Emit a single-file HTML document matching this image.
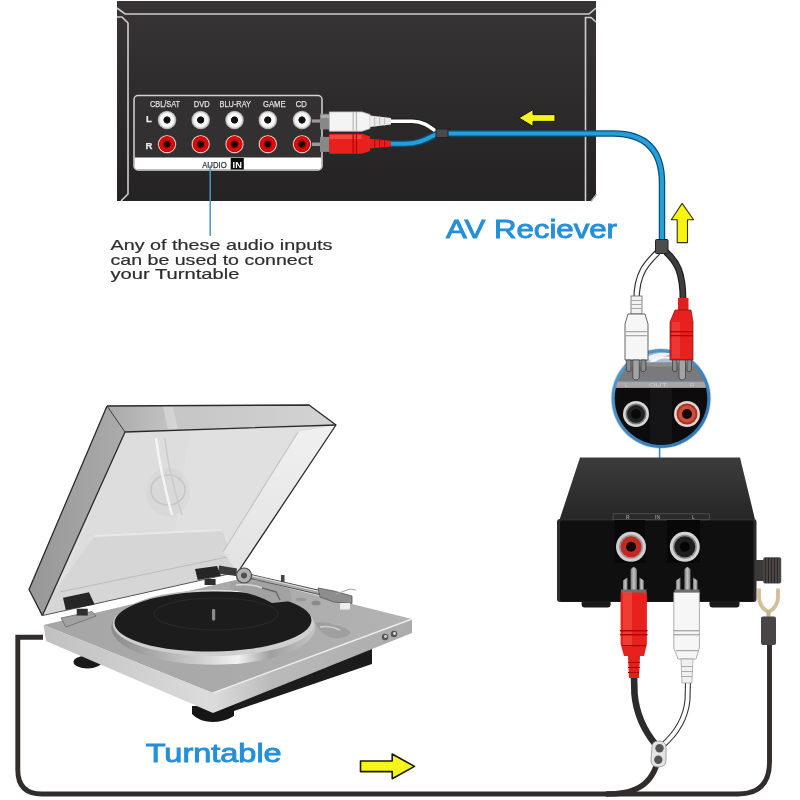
<!DOCTYPE html>
<html><head><meta charset="utf-8">
<style>
html,body{margin:0;padding:0;background:#fff;}
body{width:800px;height:800px;overflow:hidden;position:relative;font-family:"Liberation Sans",sans-serif;}
svg{position:absolute;left:0;top:0;will-change:transform;}
.lbl{font-family:"Liberation Sans",sans-serif;}
</style></head>
<body>
<svg width="800" height="800" viewBox="0 0 800 800">
<defs>
  <linearGradient id="rcvg" x1="0" y1="0" x2="0" y2="1">
    <stop offset="0" stop-color="#363434"/>
    <stop offset="1" stop-color="#242222"/>
  </linearGradient>
  <radialGradient id="wjack" cx="0.5" cy="0.5" r="0.5">
    <stop offset="0.35" stop-color="#111"/>
    <stop offset="0.42" stop-color="#fff"/>
    <stop offset="0.75" stop-color="#f4f4f4"/>
    <stop offset="1" stop-color="#9a9a9a"/>
  </radialGradient>
  <radialGradient id="rjack" cx="0.5" cy="0.5" r="0.5">
    <stop offset="0.3" stop-color="#1a0000"/>
    <stop offset="0.4" stop-color="#b30000"/>
    <stop offset="0.6" stop-color="#e01010"/>
    <stop offset="0.82" stop-color="#d00000"/>
    <stop offset="0.9" stop-color="#f3c9c0"/>
    <stop offset="1" stop-color="#a08080"/>
  </radialGradient>
</defs>

<!-- ============ RECEIVER ============ -->
<path d="M117 1 L596 1 L596 194 L590.5 201 L117 201 Z" fill="url(#rcvg)"/>
<path d="M596.5 194.5 L591 201.5" stroke="#999" stroke-width="1.2"/>
<g fill="none" stroke="#cfcfcf" stroke-width="1.6">
  <path d="M117 8 L125 14 L589 14 L596 8"/>
  <path d="M117 17 L122 17 L128 23 L128 194 L121 201"/>
  <path d="M596 22 L591 17.5 L585.5 17.5 L585.5 201"/>
</g>
<!-- jack panel -->
<rect x="134" y="95.5" width="188" height="74.5" rx="4" fill="#323030" stroke="#d4d4d4" stroke-width="1.5"/>
<path d="M134.7 157.5 L321.3 157.5 L321.3 166 Q321.3 169.3 318 169.3 L138 169.3 Q134.7 169.3 134.7 166 Z" fill="#fff"/>
<text x="202.2" y="167.6" font-size="8.8" fill="#333" stroke="#333" stroke-width="0.25" font-family="Liberation Sans" textLength="24.5" lengthAdjust="spacingAndGlyphs">AUDIO</text>
<rect x="230.7" y="158" width="13.1" height="11.5" fill="#0a0a0a"/>
<text x="232.6" y="167.6" font-size="8.8" font-weight="bold" fill="#fff" font-family="Liberation Sans" textLength="9.3" lengthAdjust="spacingAndGlyphs">IN</text>
<g font-size="9.5" fill="#e2e2e2" stroke="#e2e2e2" stroke-width="0.25" font-family="Liberation Sans" lengthAdjust="spacingAndGlyphs">
  <text x="150" y="107" textLength="30" lengthAdjust="spacingAndGlyphs">CBL/SAT</text>
  <text x="193.8" y="107" textLength="15.8" lengthAdjust="spacingAndGlyphs">DVD</text>
  <text x="219.5" y="107" textLength="31.5" lengthAdjust="spacingAndGlyphs">BLU-RAY</text>
  <text x="263" y="107" textLength="22.5" lengthAdjust="spacingAndGlyphs">GAME</text>
  <text x="295.8" y="107" textLength="11" lengthAdjust="spacingAndGlyphs">CD</text>
  <text x="146" y="122" font-weight="bold" fill="#eee">L</text>
  <text x="145.5" y="148.6" font-weight="bold" fill="#eee">R</text>
</g>
<g>
  <circle cx="167" cy="120" r="9.3" fill="url(#wjack)"/>
  <circle cx="200.7" cy="120" r="9.3" fill="url(#wjack)"/>
  <circle cx="234.5" cy="120" r="9.3" fill="url(#wjack)"/>
  <circle cx="267.8" cy="120" r="9.3" fill="url(#wjack)"/>
  <circle cx="302" cy="120" r="9.3" fill="url(#wjack)"/>
  <circle cx="167" cy="144.2" r="9.3" fill="url(#rjack)"/>
  <circle cx="200.7" cy="144.2" r="9.3" fill="url(#rjack)"/>
  <circle cx="234.5" cy="144.2" r="9.3" fill="url(#rjack)"/>
  <circle cx="267.8" cy="144.2" r="9.3" fill="url(#rjack)"/>
  <circle cx="302" cy="144.2" r="9.3" fill="url(#rjack)"/>
</g>

<!-- CD plugs & cables -->
<g>
  <!-- white cable -->
  <path d="M390 121.3 L412 121.3 C424 121.3 430 127 437 132" fill="none" stroke="#222" stroke-width="6"/>
  <path d="M390 121.3 L412 121.3 C424 121.3 430 127 437 132" fill="none" stroke="#fff" stroke-width="3.6"/>
  <!-- blue short cable -->
  <path d="M390 143.8 L405 143.8 C420 143.8 428 138 437 134" fill="none" stroke="#0d4f78" stroke-width="6.5"/>
  <path d="M390 143.8 L405 143.8 C420 143.8 428 138 437 134" fill="none" stroke="#23a0dc" stroke-width="4"/>
  <!-- main blue cable -->
  <path d="M447 133.5 L613 133.5 Q662 133.5 662 183 L662 242" fill="none" stroke="#0d4f78" stroke-width="6.5"/>
  <path d="M447 133.5 L613 133.5 Q662 133.5 662 183 L662 242" fill="none" stroke="#22a0dc" stroke-width="4"/>
  <rect x="436" y="129" width="12" height="8.5" fill="#4a4a4a" stroke="#222" stroke-width="1"/>
  <!-- white plug -->
  <rect x="312" y="119.4" width="10" height="3.2" fill="#9a9a9a"/>
  <rect x="320" y="113.8" width="9.5" height="15.6" fill="#888"/>
  <rect x="321" y="115" width="8" height="3" fill="#aaa"/>
  <path d="M329.4 111.9 L362 111.9 L370 114.5 L370 128.6 L362 131.2 L329.4 131.2 Z" fill="#f4f4f4" stroke="#bbb" stroke-width="0.8"/>
  <rect x="352.5" y="112" width="1.3" height="19" fill="#bbb"/>
  <rect x="355.8" y="112" width="1.3" height="19" fill="#bbb"/>
  <path d="M370 115.6 L391 118 L391 124.6 L370 127 Z" fill="#eaeaea"/>
  <g fill="#c4c4c4"><rect x="374" y="116" width="1.2" height="10.5"/><rect x="379" y="116.5" width="1.2" height="9.5"/><rect x="384" y="117" width="1.2" height="8.5"/></g>
  <!-- red plug -->
  <rect x="312" y="142.5" width="10" height="3.5" fill="#9a9a9a"/>
  <rect x="320" y="136.9" width="9.5" height="15" fill="#888"/>
  <path d="M329.4 133.8 L362 133.8 L370 136.5 L370 151 L362 153.8 L329.4 153.8 Z" fill="#e8201e"/>
  <rect x="329.4" y="135" width="32" height="4" fill="#f04a40"/>
  <rect x="352.5" y="134" width="1.3" height="19.5" fill="#b00"/>
  <rect x="355.8" y="134" width="1.3" height="19.5" fill="#b00"/>
  <path d="M370 138.7 L391 140.8 L391 146.6 L370 148.5 Z" fill="#e32020"/>
  <g fill="#b00"><rect x="374" y="139" width="1.2" height="9"/><rect x="379" y="139.5" width="1.2" height="8"/><rect x="384" y="140" width="1.2" height="7"/></g>
</g>

<!-- yellow arrow left on receiver -->
<path d="M518.9 117.9 L533 109.6 L533 114.6 L555 114.6 L555 121.4 L533 121.4 L533 126.4 Z" fill="#f6f41e" stroke="#141400" stroke-width="1" stroke-linejoin="round"/>

<!-- pointer line -->
<line x1="210.2" y1="165.5" x2="210.2" y2="236" stroke="#4a98c4" stroke-width="1.5"/>

<!-- AV Reciever -->
<text x="446" y="238" font-size="26" fill="#2490d8" stroke="#2490d8" stroke-width="0.9" textLength="171" lengthAdjust="spacingAndGlyphs" font-family="Liberation Sans">AV Reciever</text>

<!-- Left text -->
<g font-size="15" fill="#2e2e2e" stroke="#2e2e2e" stroke-width="0.2" font-family="Liberation Sans">
  <text x="110.5" y="249.6" textLength="222" lengthAdjust="spacingAndGlyphs">Any of these audio inputs</text>
  <text x="110.5" y="264.6" textLength="202.5" lengthAdjust="spacingAndGlyphs">can be used to connect</text>
  <text x="110.5" y="279.2" textLength="129" lengthAdjust="spacingAndGlyphs">your Turntable</text>
</g>

<!-- yellow up arrow -->
<path d="M682.1 203.4 L693.6 219.7 L687.5 219.7 L687.5 242.6 L677.2 242.6 L677.2 219.7 L671.3 219.7 Z" fill="#f8f410" stroke="#333300" stroke-width="1.1" stroke-linejoin="round"/>


<!-- ============ TURNTABLE ============ -->
<defs>
  <linearGradient id="lidin" x1="0" y1="0" x2="1" y2="1">
    <stop offset="0" stop-color="#e2e2e2"/>
    <stop offset="0.5" stop-color="#d6d6d6"/>
    <stop offset="1" stop-color="#e4e4e4"/>
  </linearGradient>
  <linearGradient id="lidtop" x1="0" y1="0" x2="1" y2="0">
    <stop offset="0" stop-color="#a8a8a8"/>
    <stop offset="0.3" stop-color="#c6c6c6"/>
    <stop offset="0.7" stop-color="#cdcdcd"/>
    <stop offset="1" stop-color="#d4d4d4"/>
  </linearGradient>
  <linearGradient id="lidleft" x1="0" y1="0" x2="1" y2="0">
    <stop offset="0" stop-color="#979797"/>
    <stop offset="1" stop-color="#ababab"/>
  </linearGradient>
  <linearGradient id="basetop" x1="0" y1="0" x2="1" y2="0">
    <stop offset="0" stop-color="#a6a6a6"/>
    <stop offset="0.6" stop-color="#ababab"/>
    <stop offset="1" stop-color="#b4b4b4"/>
  </linearGradient>
  <linearGradient id="basefront" x1="0" y1="0" x2="1" y2="0">
    <stop offset="0" stop-color="#c0c0c0"/>
    <stop offset="1" stop-color="#dcdcdc"/>
  </linearGradient>
  <linearGradient id="baseright" x1="0" y1="0" x2="1" y2="0">
    <stop offset="0" stop-color="#dcdcdc"/>
    <stop offset="0.3" stop-color="#bababa"/>
    <stop offset="1" stop-color="#ababab"/>
  </linearGradient>
  <linearGradient id="prim" x1="0" y1="0" x2="1" y2="0">
    <stop offset="0" stop-color="#8a8a8a"/>
    <stop offset="0.4" stop-color="#c8c8c8"/>
    <stop offset="0.62" stop-color="#f2f2f2"/>
    <stop offset="0.78" stop-color="#a0a0a0"/>
    <stop offset="1" stop-color="#c4c4c4"/>
  </linearGradient>
</defs>
<!-- lid -->
<defs>
  <linearGradient id="rwall" x1="0" y1="0" x2="0" y2="1">
    <stop offset="0" stop-color="#f0f0f0"/>
    <stop offset="1" stop-color="#e2e2e2"/>
  </linearGradient>
</defs>
<g stroke-linejoin="round">
  <path d="M125 432 L336 425 L238 572 L42.4 615.6 Z" fill="#e0e0e0"/>
  <path d="M125 432 L190 430 L175 530 L60 590 Z" fill="#dadada" opacity="0.6"/>
  <path d="M48 600 L95 536 L222 530 L238 572 L42.4 615.6 Z" fill="#d3d3d3" opacity="0.75"/>
  <path d="M95 536 L222 530" stroke="#e8e8e8" stroke-width="2"/>
  <path d="M60 592 L232 556" stroke="#bcbcbc" stroke-width="1.2"/>
  <ellipse cx="168" cy="492" rx="22" ry="24" fill="#d6d6d6" opacity="0.6"/>
  <path d="M298 432 L336 425 L238 572 L223 552 Z" fill="url(#rwall)"/>
  <path d="M223 552 L298 432" stroke="#c4c4c4" stroke-width="1.2"/>
  <ellipse cx="168" cy="490" rx="17" ry="15" fill="none" stroke="#c6c6c6" stroke-width="1.5"/>
  <path d="M156 438 Q160 470 172 515" fill="none" stroke="#f4f4f4" stroke-width="2.5"/>
  <path d="M165 438 Q168 470 182 515" fill="none" stroke="#cacaca" stroke-width="1.5"/>
  <path d="M107 406 L309 405 L336 425 L125 432 Z" fill="url(#lidtop)"/>
  <path d="M163 406 L173 406 L178 430 L168 430 Z" fill="#dedede" opacity="0.6"/>
  <path d="M107 406 L125 432 L42.4 615.6 L29 589.5 Z" fill="url(#lidleft)"/>
  <path d="M107 406 L309 405 L336 425 L238 572" fill="none" stroke="#2a2a2a" stroke-width="1.3"/>
  <path d="M336 425 L125 432 L42.4 615.6" fill="none" stroke="#2a2a2a" stroke-width="1.3"/>
  <path d="M107 406 L29 589.5 L42.4 615.6" fill="none" stroke="#2a2a2a" stroke-width="1.3"/>
  <path d="M42.4 615.6 L238 572" fill="none" stroke="#555" stroke-width="1"/>
  <path d="M107 406 L125 432" fill="none" stroke="#3a3a3a" stroke-width="1"/>
</g>
<!-- base underside & feet -->
<path d="M200 705 L372 648 L372 664 L205 721 Z" fill="#1c1c1c"/>
<ellipse cx="87.5" cy="662" rx="14" ry="6.5" fill="#1a1a1a"/>
<path d="M192 706 L234 706 L234 716 Q224 722 212 722 Q198 721 192 714 Z" fill="#161616"/>
<ellipse cx="360" cy="658" rx="12" ry="6" fill="#1a1a1a"/>
<!-- base top -->
<path d="M43.5 625 L246 577.5 L412 619 L213 693 Z" fill="url(#basetop)"/>
<!-- base front-left face -->
<path d="M43.5 625 L213 693 L213 713 L46 641 Z" fill="url(#basefront)"/>
<!-- base right face -->
<path d="M213 693 L412 619 L412 633 L213 713 Z" fill="url(#baseright)"/>
<path d="M213 693 L412 619" stroke="#ececec" stroke-width="1.5"/>
<circle cx="385" cy="637" r="3.2" fill="#555"/><circle cx="394" cy="634" r="3.2" fill="#555"/>
<circle cx="385.5" cy="636.5" r="1.4" fill="#ddd"/><circle cx="394.5" cy="633.5" r="1.4" fill="#ddd"/>
<!-- hinge plates on base -->
<path d="M61 618 L92 611.5 L96 616 L66 627 Z" fill="#a2a2a2" stroke="#6a6a6a" stroke-width="0.8"/>
<path d="M315 623 Q325 620 334 625 Q346 626 351 633 Q344 640 333 638 Q322 636 315 623 Z" fill="#9c9c9c" opacity="0.85"/>
<path d="M320 627 Q330 625 340 630" stroke="#d0d0d0" stroke-width="1.5" fill="none"/>
<!-- platter -->
<ellipse cx="213.3" cy="627.3" rx="102" ry="37.5" fill="url(#prim)"/>
<ellipse cx="213.3" cy="624" rx="100.5" ry="32" fill="#cfcfcf"/>
<ellipse cx="213" cy="621.5" rx="98.5" ry="30" fill="#1c1c1c" transform="rotate(-0.8 213 621.5)"/>
<ellipse cx="216" cy="614" rx="62" ry="16" fill="none" stroke="#2a2a2a" stroke-width="1"/>
<rect x="212" y="609" width="3.2" height="11.5" rx="1" fill="#8a8a8a"/>
<!-- tonearm -->
<path d="M230.5 582 L262 581 L290 589 L292 601 L272 603 Q252 592 230.5 590 Z" fill="#a2a2a2"/>
<path d="M236 585 Q250 583 262 588" stroke="#d8d8d8" stroke-width="1.5" fill="none"/>
<path d="M262 588 L276 592 L280 600" stroke="#6a6a6a" stroke-width="1.5" fill="none"/>
<path d="M250.75 576.5 L322.75 593.25" stroke="#4a4a4a" stroke-width="5" stroke-linecap="round"/>
<path d="M250.75 576.5 L322.75 593.25" stroke="#a8a8a8" stroke-width="3.2"/>
<path d="M250.75 575.5 L322.75 592.25" stroke="#e0e0e0" stroke-width="1"/>
<path d="M219 565.5 L237 568.5 L236 576 L218.5 573.5 Z" fill="#3a3a3a"/>
<circle cx="244" cy="575.5" r="7.5" fill="#b0b0b0" stroke="#4a4a4a" stroke-width="1.2"/>
<circle cx="244" cy="575.5" r="3" fill="#505050"/>
<path d="M318 588 L334 591 L352 596 L352 603.5 L334 602 L320 597 Z" fill="#8e8e8e" stroke="#555" stroke-width="0.8"/>
<path d="M336 594 L350 589 L356 590" stroke="#aaa" stroke-width="1.2" fill="none"/>
<rect x="340" y="603" width="10" height="6.5" fill="#ececec"/>
<rect x="281" y="575" width="3.5" height="7" fill="#444"/>
<ellipse cx="301" cy="599.5" rx="5.5" ry="1.8" fill="#999"/>
<ellipse cx="316" cy="603" rx="4.5" ry="2.5" fill="#8a8a8a"/>
<!-- hinges -->
<path d="M63 597.75 L89 592.25 L94.6 604.6 L65.75 610 Z" fill="#262626"/>
<rect x="76.75" y="608.75" width="11" height="6.8" fill="#2e2e2e"/>
<path d="M195 568.9 L217 566 L221 575.75 L197.75 580 Z" fill="#262626"/>
<rect x="204.6" y="579" width="11" height="6" fill="#2e2e2e"/>

<!-- ============ BOTTOM CABLES ============ -->
<g fill="none">
  <path d="M43 637.3 L17.8 637.3 L17.8 770 Q17.8 794 42 794 L738 794 Q769.5 794 769.5 762 L769.5 645" stroke="#302d2c" stroke-width="4.9" stroke-linejoin="miter"/>
  <path d="M657.5 762 Q652 782 636 789 Q626 794 606 794" stroke="#302d2c" stroke-width="5.6"/>
  <!-- black cable from red plug -->
  <path d="M634 676 L634.5 694 Q637 722 656 745" stroke="#2c2c2c" stroke-width="6.6"/>
  <!-- white cable from white plug -->
  <path d="M688 681 L687.5 700 Q685 726 662 746" stroke="#333" stroke-width="6"/>
  <path d="M688 681 L687.5 700 Q685 726 662 746" stroke="#fff" stroke-width="3.8"/>
</g>
<!-- joint at bottom -->
<g>
  <path d="M652 747 Q652 741 659 741 Q666 741 666 748 L666 760 Q666 767 658.5 767 Q651 767 651 760 Z" fill="#e4e4e4" stroke="#9a9a9a" stroke-width="0.9"/>
  <circle cx="659.5" cy="748.3" r="4.2" fill="#555"/>
  <circle cx="658.3" cy="759.8" r="4.2" fill="#555"/>
</g>

<!-- ============ SPLITTER (top right) ============ -->
<g fill="none">
  <path d="M658 252 C648 262 636.5 272 636.5 300" stroke="#333" stroke-width="6.6"/>
  <path d="M658 252 C648 262 636.5 272 636.5 300" stroke="#fff" stroke-width="4.2"/>
  <path d="M666 252 C677 262 683 272 683 300" stroke="#1e1e1e" stroke-width="6.8"/>
  <path d="M666 252 C677 262 683 272 683 300" stroke="#3e3e3e" stroke-width="4.4"/>
</g>
<rect x="655.5" y="239.5" width="12.5" height="14" rx="1" fill="#4d4d4d" stroke="#222" stroke-width="1"/>

<!-- ============ MAGNIFIER CIRCLE ============ -->
<defs>
  <clipPath id="mag"><circle cx="661" cy="398.5" r="46.3"/></clipPath>
  <linearGradient id="magtop" x1="0" y1="0" x2="0" y2="1">
    <stop offset="0" stop-color="#8fb4d0"/>
    <stop offset="1" stop-color="#b6c6d4"/>
  </linearGradient>
</defs>
<defs><linearGradient id="ringg" x1="0" y1="0" x2="1" y2="1"><stop offset="0" stop-color="#5c9ccc"/><stop offset="1" stop-color="#2a72ae"/></linearGradient></defs>
<circle cx="661" cy="398.5" r="50.3" fill="#a8cbe6" opacity="0.6"/>
<circle cx="661" cy="398.5" r="49.4" fill="url(#ringg)"/>
<g clip-path="url(#mag)">
  <rect x="605" y="345" width="115" height="20" fill="url(#magtop)"/>
  <path d="M645 358 Q660 350 672 354 Q662 356 655 362 Z" fill="#eef2f6"/>
  <path d="M650 362 Q662 356 670 358" stroke="#f4f6f8" stroke-width="2" fill="none"/>
  <rect x="605" y="362.6" width="115" height="19" fill="#7a7a7c"/>
  <rect x="605" y="362.6" width="115" height="4" fill="#8c8c8e"/>
  <rect x="605" y="381.6" width="115" height="6" fill="#a6a6a8"/>
  <rect x="605" y="388" width="115" height="65" fill="#0c0c0e"/>
  <rect x="650" y="388" width="22" height="65" fill="#151517"/>
  <g opacity="0.55" font-size="5.5" fill="#e8e8e8" font-family="Liberation Sans"><text x="625" y="386.5">L</text>
  <text x="649" y="386.5" textLength="18" lengthAdjust="spacingAndGlyphs">OUT</text>
  <text x="690" y="386.5">R</text></g>
  <circle cx="636" cy="414" r="13" fill="#d7d7d7"/>
  <circle cx="636" cy="414" r="10.5" fill="#777"/>
  <circle cx="636" cy="414" r="9" fill="#222"/>
  <circle cx="636" cy="414" r="5" fill="#0a0a0a"/>
  <circle cx="687" cy="414" r="13" fill="#e0d4d0"/>
  <circle cx="687" cy="414" r="10.5" fill="#b03020"/>
  <circle cx="687" cy="414" r="8.5" fill="#c8503c"/>
  <circle cx="687" cy="414" r="5" fill="#1a0505"/>
</g>

<!-- plugs above circle -->
<g>
  <!-- white plug -->
  <rect x="631" y="296" width="11" height="18" fill="#f2f2f2" stroke="#666" stroke-width="0.8"/>
  <g fill="#aaa"><rect x="631" y="300" width="11" height="1"/><rect x="631" y="304" width="11" height="1"/><rect x="631" y="308" width="11" height="1"/></g>
  <path d="M628 314 L645 314 L648 324 L648 360 L625 360 L625 324 Z" fill="#f6f6f6" stroke="#555" stroke-width="0.9"/>
  <rect x="625" y="331" width="23" height="1.3" fill="#aaa"/>
  <rect x="625" y="335" width="23" height="1.3" fill="#aaa"/>
  <path d="M626.3 360 L631 360 L631 371 L628 372 L626.3 370 Z" fill="#8a8a8a" stroke="#333" stroke-width="0.7"/>
  <path d="M641 360 L645.9 360 L645.9 370 L644 372 L641 371 Z" fill="#8a8a8a" stroke="#333" stroke-width="0.7"/>
  <path d="M632.8 360 L639.3 360 L639.3 378 Q636 382 632.8 378 Z" fill="#a4a4a4" stroke="#333" stroke-width="0.7"/>
  <!-- red plug -->
  <rect x="678" y="298" width="10.5" height="13" fill="#e02020"/>
  <path d="M675 310 L691 310 L693 322 L693 360 L670 360 L670 322 Z" fill="#e8201e" stroke="#7a1010" stroke-width="0.7"/>
  <rect x="672" y="322" width="8" height="36" fill="#f04a40" opacity="0.6"/>
  <rect x="670" y="331" width="23" height="1.3" fill="#b00"/>
  <rect x="670" y="335" width="23" height="1.3" fill="#b00"/>
  <path d="M672.5 360 L677 360 L677 371 L674 372 L672.5 370 Z" fill="#8a8a8a" stroke="#333" stroke-width="0.7"/>
  <path d="M687 360 L691.5 360 L691.5 370 L690 372 L687 371 Z" fill="#8a8a8a" stroke="#333" stroke-width="0.7"/>
  <path d="M679 360 L685.5 360 L685.5 378 Q682.2 382 679 378 Z" fill="#a4a4a4" stroke="#333" stroke-width="0.7"/>
</g>

<!-- blue line from circle to box -->
<line x1="659.6" y1="447" x2="659.6" y2="460" stroke="#2a8cc4" stroke-width="1.6"/>

<!-- ============ PREAMP BOX ============ -->
<defs>
  <linearGradient id="pbtop" x1="0" y1="0" x2="0" y2="1">
    <stop offset="0" stop-color="#3c3c3c"/>
    <stop offset="1" stop-color="#262626"/>
  </linearGradient>
</defs>
<path d="M580 457.4 L740 457.4 L755 519.5 L559.6 519.5 Z" fill="url(#pbtop)"/>
<rect x="581.6" y="598" width="29" height="9.5" rx="3" fill="#1a1a1a"/>
<rect x="709.5" y="598" width="30" height="9.5" rx="3" fill="#1a1a1a"/>
<rect x="557" y="519" width="199.5" height="83" rx="3" fill="#2c2c2c"/>
<rect x="560" y="520.5" width="193.5" height="81" rx="2" fill="#0f0f0f"/>
<rect x="613" y="513.8" width="96.5" height="6" fill="#2a2a2a" stroke="#666" stroke-width="0.6"/>
<g font-size="5" fill="#bbb" font-family="Liberation Sans"><text x="626" y="519">R</text><text x="655" y="519">IN</text><text x="692" y="519">L</text></g>
<rect x="614.6" y="520" width="30.4" height="43" fill="#080808"/>
<rect x="667" y="520" width="33" height="43" fill="#080808"/>
<circle cx="631" cy="546.8" r="15" fill="#cfcfcf"/>
<circle cx="631" cy="546.8" r="12" fill="#999"/>
<circle cx="631" cy="546.8" r="10.5" fill="#c02a20"/>
<circle cx="631" cy="546.8" r="5" fill="#150505"/>
<circle cx="684.8" cy="546.8" r="15" fill="#d4d4d4"/>
<circle cx="684.8" cy="546.8" r="12" fill="#8a8a8a"/>
<circle cx="684.8" cy="546.8" r="10.5" fill="#1e1e1e"/>
<circle cx="684.8" cy="546.8" r="5" fill="#050505"/>

<!-- plugs into preamp -->
<g>
  <!-- red -->
  <defs><linearGradient id="pin" x1="0" y1="0" x2="1" y2="0"><stop offset="0" stop-color="#777"/><stop offset="0.5" stop-color="#c4c4c4"/><stop offset="1" stop-color="#7a7a7a"/></linearGradient></defs>
  <path d="M630.6 591 L630.6 569.5 Q633.75 564.5 636.9 569.5 L636.9 591 Z" fill="url(#pin)"/>
  <path d="M623 591 L623 580.5 L627.5 577.5 L627.5 591 Z" fill="url(#pin)"/>
  <path d="M639.4 591 L639.4 577.5 L643.8 580.5 L643.8 591 Z" fill="url(#pin)"/>
  <rect x="621" y="589.5" width="25.5" height="4" fill="#6e6e6e"/>
  <path d="M620.6 592.5 L646.9 592.5 L646.9 644 L644 656 L624 656 L620.6 644 Z" fill="#e8201e"/>
  <rect x="623" y="592" width="9" height="55" fill="#f55a4a" opacity="0.5"/>
  <g fill="#a00"><rect x="620" y="630" width="27.6" height="1.4"/><rect x="620" y="634" width="27.6" height="1.4"/><rect x="622" y="645" width="24" height="1.2"/></g>
  <path d="M628 656 L640 656 L639 678 L629 678 Z" fill="#e32020"/>
  <g fill="#a00"><rect x="628" y="662" width="12" height="1"/><rect x="628" y="667" width="12" height="1"/><rect x="628" y="672" width="11" height="1"/></g>
  <!-- white -->
  <path d="M684.4 591 L684.4 569.5 Q687.4 564.5 690.4 569.5 L690.4 591 Z" fill="url(#pin)"/>
  <path d="M676 591 L676 580.5 L680.5 577.5 L680.5 591 Z" fill="url(#pin)"/>
  <path d="M693 591 L693 577.5 L697.5 580.5 L697.5 591 Z" fill="url(#pin)"/>
  <rect x="674.5" y="589.5" width="25" height="4" fill="#6e6e6e"/>
  <path d="M673.8 592.5 L699.4 592.5 L699.4 648 L696 659 L678 659 L673.8 648 Z" fill="#f6f6f6" stroke="#999" stroke-width="0.8"/>
  <g fill="#aaa"><rect x="674" y="630" width="25.8" height="1.4"/><rect x="674" y="634" width="25.8" height="1.4"/><rect x="676" y="650" width="22" height="1.2"/></g>
  <path d="M681 659 L693 659 L692 683 L682 683 Z" fill="#f0f0f0" stroke="#999" stroke-width="0.7"/>
  <g fill="#aaa"><rect x="681" y="666" width="12" height="1"/><rect x="681" y="671" width="12" height="1"/><rect x="681" y="676" width="11" height="1"/></g>
</g>

<!-- ground screw & spade -->
<rect x="755" y="560" width="9" height="21" fill="#3a3a3a"/>
<rect x="763.2" y="557.2" width="18" height="26.3" rx="2" fill="#4a4646"/>
<g fill="#2a2828"><rect x="765" y="558" width="1" height="25"/><rect x="768" y="558" width="1" height="25"/><rect x="771" y="558" width="1" height="25"/><rect x="774" y="558" width="1" height="25"/><rect x="777" y="558" width="1" height="25"/></g>
<path d="M759 588.5 L759 598 Q760 608 768.5 612 Q777 608 778 598 L778 588.5" fill="none" stroke="#d2bf98" stroke-width="3.8"/>
<rect x="766.5" y="610" width="4" height="7" fill="#c8b58c"/>
<rect x="761" y="616.5" width="15" height="28.5" rx="2" fill="#474545"/>


<!-- Turntable text -->
<text x="145.7" y="762" font-size="26" fill="#2490d8" stroke="#2490d8" stroke-width="0.9" textLength="136" lengthAdjust="spacingAndGlyphs" font-family="Liberation Sans">Turntable</text>
<!-- yellow right arrow -->
<path d="M414.5 766.4 L392.2 754 L392.2 761 L360.5 761 L360.5 771.6 L392.2 771.6 L392.2 778.8 Z" fill="#f6f41e" stroke="#1a1a00" stroke-width="1.6" stroke-linejoin="round"/>
</svg>
</body></html>
